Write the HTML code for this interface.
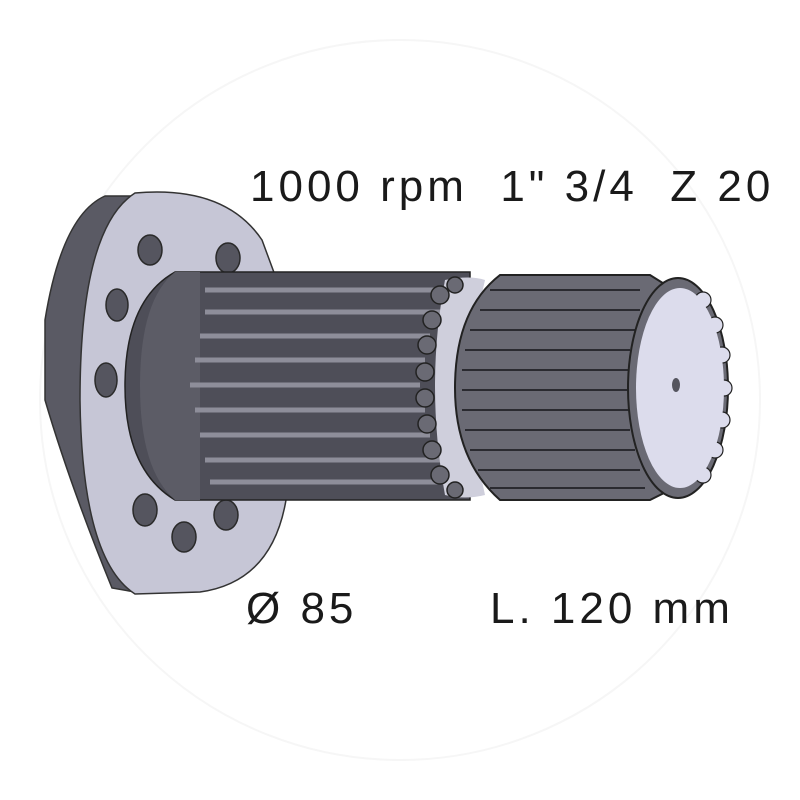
<!DOCTYPE html>
<html><head><style>
html,body{margin:0;padding:0;background:#fff;width:800px;height:800px;overflow:hidden}
.t{position:absolute;font-family:"Liberation Sans",sans-serif;color:#1a1a1a;font-size:44px;white-space:pre;letter-spacing:4px}
</style></head><body>
<svg width="800" height="800" style="position:absolute;left:0;top:0">
<circle cx="400" cy="400" r="360" fill="none" stroke="#f6f6f6" stroke-width="2"/>
<path d="M105,196 Q62,215 45,320 L45,400 Q70,485 112,588 L135,592 L135,196 Z" fill="#5a5a64" stroke="#333" stroke-width="1.5"/>
<path d="M135,193 Q225,185 262,240 L286,305 L286,500 Q272,582 200,592 L135,594 Q82,560 80,400 Q80,228 135,193 Z" fill="#c6c6d6" stroke="#333" stroke-width="1.5"/>
<g fill="#55555f" stroke="#2a2a2a" stroke-width="1.5">
<ellipse cx="150" cy="250" rx="12" ry="15"/>
<ellipse cx="228" cy="258" rx="12" ry="15"/>
<ellipse cx="117" cy="305" rx="11" ry="16"/>
<ellipse cx="106" cy="380" rx="11" ry="17"/>
<ellipse cx="145" cy="510" rx="12" ry="16"/>
<ellipse cx="184" cy="537" rx="12" ry="15"/>
<ellipse cx="226" cy="515" rx="12" ry="15"/>
</g>
<path d="M175,272 L470,272 L470,500 L175,500 Q125,470 125,386 Q125,300 175,272 Z" fill="#4e4e58" stroke="#222" stroke-width="1.5"/>
<path d="M175,272 Q140,300 140,386 Q140,470 175,500 L200,500 L200,272 Z" fill="#5c5c66"/>
<g stroke="#8e8e9a" stroke-width="5">
<line x1="205" y1="290" x2="445" y2="290"/><line x1="205" y1="312" x2="445" y2="312"/>
<line x1="200" y1="336" x2="430" y2="336"/><line x1="195" y1="360" x2="425" y2="360"/>
<line x1="190" y1="385" x2="420" y2="385"/><line x1="195" y1="410" x2="425" y2="410"/>
<line x1="200" y1="435" x2="430" y2="435"/><line x1="205" y1="460" x2="440" y2="460"/>
<line x1="210" y1="482" x2="450" y2="482"/>
</g>
<path d="M445,280 Q470,275 485,280 Q460,385 485,495 Q465,500 445,495 Q425,385 445,280 Z" fill="#cfcfdc"/>
<g fill="#6a6a74" stroke="#222" stroke-width="1.5">
<circle cx="440" cy="295" r="9"/><circle cx="432" cy="320" r="9"/><circle cx="427" cy="345" r="9"/>
<circle cx="425" cy="372" r="9"/><circle cx="425" cy="398" r="9"/><circle cx="427" cy="424" r="9"/>
<circle cx="432" cy="450" r="9"/><circle cx="440" cy="475" r="9"/><circle cx="455" cy="285" r="8"/><circle cx="455" cy="490" r="8"/>
</g>
<path d="M500,275 L650,275 L690,300 L690,480 L650,500 L500,500 Q455,460 455,388 Q455,310 500,275 Z" fill="#6a6a74" stroke="#222" stroke-width="2"/>
<g stroke="#2a2a30" stroke-width="2">
<line x1="490" y1="290" x2="640" y2="290"/><line x1="480" y1="310" x2="640" y2="310"/>
<line x1="470" y1="330" x2="635" y2="330"/><line x1="465" y1="350" x2="630" y2="350"/>
<line x1="462" y1="370" x2="630" y2="370"/><line x1="462" y1="390" x2="630" y2="390"/>
<line x1="462" y1="410" x2="630" y2="410"/><line x1="465" y1="430" x2="630" y2="430"/>
<line x1="470" y1="450" x2="635" y2="450"/><line x1="478" y1="470" x2="640" y2="470"/>
<line x1="490" y1="488" x2="645" y2="488"/>
</g>
<ellipse cx="678" cy="388" rx="50" ry="110" fill="#6a6a74" stroke="#222" stroke-width="2"/>
<g fill="#dcdcec" stroke="#222" stroke-width="1.2">
<circle cx="715" cy="325" r="8"/><circle cx="722" cy="355" r="8"/><circle cx="724" cy="388" r="8"/>
<circle cx="722" cy="420" r="8"/><circle cx="715" cy="450" r="8"/><circle cx="703" cy="475" r="8"/><circle cx="703" cy="300" r="8"/>
</g>
<ellipse cx="680" cy="388" rx="44" ry="100" fill="#dcdcec"/>
<ellipse cx="676" cy="385" rx="4" ry="7" fill="#55555f"/>
</svg>
<div class="t" style="left:250px;top:162px">1000 rpm  1" 3/4  Z 20</div>
<div class="t" style="left:246px;top:584px">Ø 85</div>
<div class="t" style="left:490px;top:584px">L. 120 mm</div>
</body></html>
